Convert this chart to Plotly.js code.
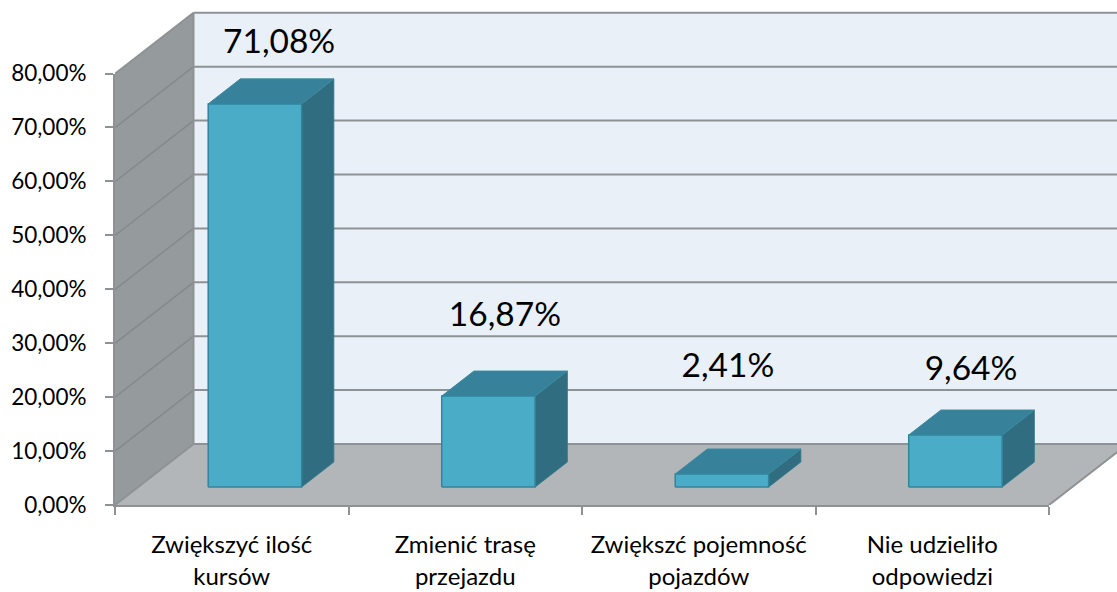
<!DOCTYPE html>
<html><head><meta charset="utf-8">
<script src="https://cdn.plot.ly/plotly-3.0.1.min.js"></script>
<style>html,body{margin:0;padding:0;background:#fff;overflow:hidden}</style>
</head><body><div id="chart" style="width:1117px;height:592px"></div>
<script>
const categories = ["Zwiększyć ilość<br>kursów", "Zmienić trasę<br>przejazdu", "Zwiększć pojemność<br>pojazdów", "Nie udzieliło<br>odpowiedzi"];
const values = [71.08, 16.87, 2.41, 9.64];
const yTicks = [0, 10, 20, 30, 40, 50, 60, 70, 80];
const yTickLabels = ["0,00%", "10,00%", "20,00%", "30,00%", "40,00%", "50,00%", "60,00%", "70,00%", "80,00%"];
const labelX = [0.703, 1.67, 2.625, 3.666];
const labelY = [85.5, 34.8, 25.3, 24.7];

const DX = 78.5 / 233.5, DY = 61 / 5.39, D0 = 0.295, D1 = 0.705, BARW = 0.4;
const GRID = '#8f9294';
const P = (x, y, d) => [x + d * DX, y + d * DY];
function poly(pts, fill, lineColor, lineWidth) {
  return { type: 'scatter', xaxis: 'x2', yaxis: 'y2', mode: lineWidth ? 'lines' : 'none',
    x: pts.map(p => p[0]), y: pts.map(p => p[1]),
    fill: 'toself', fillcolor: fill, line: { color: lineColor || fill, width: lineWidth || 0 },
    hoverinfo: 'skip', showlegend: false };
}
function segLines(segs, color, width) {
  const x = [], y = [];
  segs.forEach(s => { x.push(s[0][0], s[1][0], null); y.push(s[0][1], s[1][1], null); });
  return { type: 'scatter', xaxis: 'x2', yaxis: 'y2', mode: 'lines', x, y, line: { color, width }, hoverinfo: 'skip', showlegend: false };
}
const traces = [];
const yMax = 80;
// anchor trace so that the labelled axes exist
traces.push({ type: 'scatter', mode: 'none', x: [0], y: [0], hoverinfo: 'skip', showlegend: false });
// back wall
traces.push(poly([P(0,0,1), P(4,0,1), P(4,yMax,1), P(0,yMax,1), P(0,0,1)], '#e9f0f7'));
traces.push(segLines(yTicks.slice(1).map(v => [P(0,v,1), P(4,v,1)]), GRID, 2));
// left wall
traces.push(poly([P(0,0,0), P(0,0,1), P(0,yMax,1), P(0,yMax,0), P(0,0,0)], '#959a9c'));
traces.push(segLines(yTicks.slice(1, -1).map(v => [P(0,v,0), P(0,v,1)]), '#85898b', 1.5));
traces.push(segLines([[P(0,yMax,0), P(0,yMax,1)], [P(0,0,1), P(0,yMax,1)]], GRID, 2));
// floor
traces.push(poly([P(0,0,0), P(4,0,0), P(4,0,1), P(0,0,1), P(0,0,0)], '#b2b6b9'));
traces.push(segLines([[P(0,0,1), P(4,0,1)], [P(4,0,0), P(4,0,1)], [P(0,0,0), P(0,0,1)]], GRID, 2));
// bars
values.forEach((v, i) => {
  const l = i + 0.5 - BARW / 2, r = i + 0.5 + BARW / 2;
  traces.push(poly([P(r,0,D0), P(r,0,D1), P(r,v,D1), P(r,v,D0), P(r,0,D0)], '#306d80', '#33798d', 1));
  traces.push(poly([P(l,v,D0), P(r,v,D0), P(r,v,D1), P(l,v,D1), P(l,v,D0)], '#37829a', '#3a8aa1', 1));
  traces.push(poly([P(l,0,D0), P(r,0,D0), P(r,v,D0), P(l,v,D0), P(l,0,D0)], '#4bacc8', '#31859c', 1.5));
});
// data labels
traces.push({ type: 'scatter', xaxis: 'x2', yaxis: 'y2', mode: 'text', x: labelX, y: labelY,
  text: values.map(v => v.toFixed(2).replace('.', ',') + '%'), textposition: 'middle center',
  textfont: { family: 'Lato, sans-serif', size: 33.5, color: '#000' }, hoverinfo: 'skip', showlegend: false });

const tickText = categories.map(c => c.split('<br>').map(s => `<span style="font-size:24px">${s}</span>`).join('<br>'));
const W = 1002, H = 505;
const layout = {
  width: 1117, height: 592, autosize: false, showlegend: false,
  margin: { l: 115, r: 0, t: 0, b: 87, pad: 0 },
  paper_bgcolor: '#fff', plot_bgcolor: 'rgba(0,0,0,0)',
  font: { family: 'Lato, sans-serif', color: '#000' },
  xaxis: { domain: [0, 934 / W], range: [0, 4], tickmode: 'array', tickvals: [0.5, 1.5, 2.5, 3.5], ticktext: tickText,
    tickfont: { size: 24.5, color: '#000' }, ticks: '', showgrid: false, zeroline: false, showline: true,
    linecolor: GRID, linewidth: 2, ticklabelstandoff: 17,
    minor: { tickmode: 'array', tickvals: [0, 1, 2, 3, 4], ticks: 'outside', ticklen: 8, tickwidth: 2, tickcolor: GRID, showgrid: false } },
  yaxis: { domain: [0, 431.5 / H], range: [0, 80], tickmode: 'array', tickvals: yTicks, ticktext: yTickLabels,
    tickfont: { size: 22.5, color: '#000' }, ticks: 'outside', ticklen: 8, tickwidth: 2, tickcolor: GRID,
    showgrid: false, zeroline: false, showline: true, linecolor: GRID, linewidth: 2, ticklabelstandoff: 14 },
  xaxis2: { domain: [0, 1], range: [0, W / 233.5], visible: false, anchor: 'y2' },
  yaxis2: { domain: [0, 1], range: [0, H / 5.39], visible: false, anchor: 'x2' }
};
Plotly.newPlot('chart', traces, layout, { displayModeBar: false, staticPlot: true });
</script></body></html>
